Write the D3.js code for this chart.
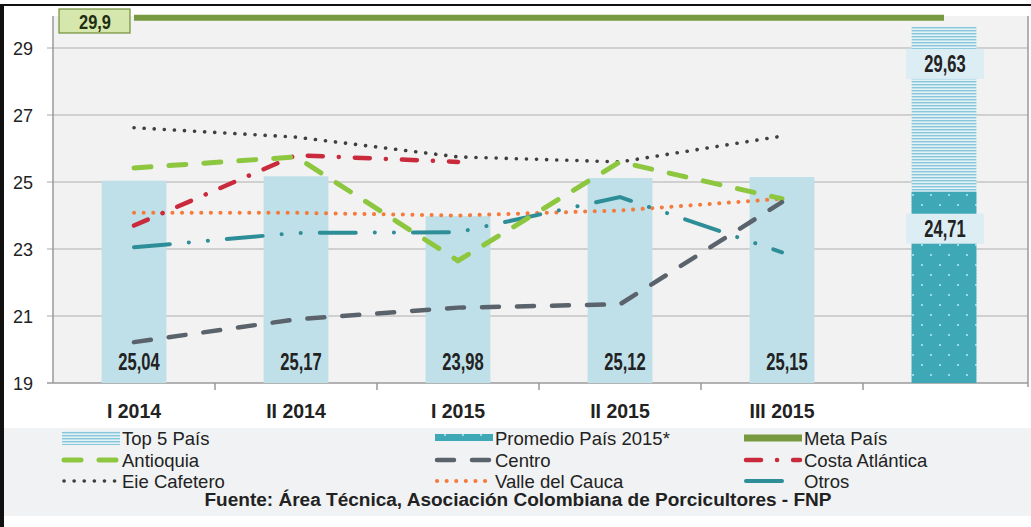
<!DOCTYPE html>
<html><head><meta charset="utf-8">
<script src="https://cdn.jsdelivr.net/npm/d3@7"></script>
<style>
html,body{margin:0;padding:0;background:#fff;}
svg{display:block;font-family:"Liberation Sans",Arial,sans-serif;}
</style></head>
<body><svg id="c" width="1031" height="527"></svg>
<script>
// ---- data ----
const categories = ["I 2014","II 2014","I 2015","II 2015","III 2015",""];
const yTicks = [19,21,23,25,27,29];
const periodBars = [25.04,25.17,23.98,25.12,25.15];
const top5Pais = 29.63;
const promedioPais2015 = 24.71;
const metaPais = 29.9;
const antioquia = [25.42,25.75,22.65,25.6,24.5];
const centro = [20.22,20.9,21.25,21.35,24.4];
const costaAtlantica = [23.7,25.8,25.6,null,null];
const ejeCafetero = [26.62,26.34,25.75,25.6,26.37];
const valleDelCauca = [24.08,24.08,24.0,24.15,24.5];
const otros = [23.05,23.48,23.5,24.55,22.9];
const legendLabels = ["Top 5 País","Promedio País 2015*","Meta País","Antioquia","Centro","Costa Atlántica","Eie Cafetero","Valle del Cauca","Otros"];
const sourceText = "Fuente: Área Técnica, Asociación Colombiana de Porcicultores - FNP";

// ---- setup ----
const svg = d3.select("#c");
const L = 53, R = 1028, T = 16, B = 383;
const x = d3.scaleBand().domain(categories).range([L, 1025]).paddingInner(0.6).paddingOuter(0.3);
const y = d3.scaleLinear().domain([19,29]).range([B,48]);
const loc = d3.formatLocale({decimal:",",thousands:".",grouping:[3],currency:["$",""]});
const f2 = loc.format(".2f"), f1 = loc.format(".1f");
const cx = c => x(c) + x.bandwidth()/2;
function squeeze(sel, r){ sel.each(function(){ const w=this.getComputedTextLength(); d3.select(this).attr("textLength",w*r).attr("lengthAdjust","spacingAndGlyphs"); }); }

// frame
svg.append("rect").attr("x",0).attr("y",0).attr("width",1031).attr("height",527).attr("fill","#fff");
svg.append("rect").attr("x",4).attr("y",428).attr("width",1027).attr("height",88).attr("fill","#f1f2f3");
svg.append("line").attr("x1",0).attr("x2",1031).attr("y1",5).attr("y2",5).attr("stroke","#111").attr("stroke-width",2);
svg.append("line").attr("x1",2).attr("x2",2).attr("y1",4).attr("y2",527).attr("stroke","#111").attr("stroke-width",4);

// patterns
const defs = svg.append("defs");
const ph = defs.append("pattern").attr("id","hatch").attr("patternUnits","userSpaceOnUse").attr("width",8).attr("height",3);
ph.append("rect").attr("width",8).attr("height",3).attr("fill","#e4f2f7");
ph.append("rect").attr("y",0).attr("width",8).attr("height",1.4).attr("fill","#86c7db");
const pd = defs.append("pattern").attr("id","dots").attr("patternUnits","userSpaceOnUse").attr("width",18).attr("height",20);
pd.append("rect").attr("width",18).attr("height",20).attr("fill","#3ea8b6");
pd.append("circle").attr("cx",4).attr("cy",5).attr("r",1.1).attr("fill","#aee8f0");
pd.append("circle").attr("cx",13).attr("cy",15).attr("r",1.1).attr("fill","#aee8f0");

// plot bg
svg.append("rect").attr("x",L).attr("y",T).attr("width",R-L).attr("height",B-T).attr("fill","#f2f2f2");
// grid
svg.append("g").selectAll("line").data(yTicks).join("line")
  .attr("x1",L-6).attr("x2",R).attr("y1",d=>y(d)).attr("y2",d=>y(d))
  .attr("stroke",d=>d===19?"#9a9a9a":"#c4c4c4").attr("stroke-width",1.5);
svg.append("line").attr("x1",L).attr("x2",L).attr("y1",T).attr("y2",B).attr("stroke","#9a9a9a").attr("stroke-width",1.5);
svg.append("line").attr("x1",R).attr("x2",R).attr("y1",T).attr("y2",B+4).attr("stroke","#9a9a9a").attr("stroke-width",1.5);
// x ticks at band boundaries
svg.append("g").selectAll("line").data(categories.slice(1)).join("line")
  .attr("x1",d=>x(d)-x.step()*x.paddingInner()/2).attr("x2",d=>x(d)-x.step()*x.paddingInner()/2)
  .attr("y1",B).attr("y2",B+7).attr("stroke","#9a9a9a").attr("stroke-width",1.5);
// y labels
svg.append("g").selectAll("text").data(yTicks).join("text")
  .attr("x",33).attr("y",d=>y(d)+6.5).attr("text-anchor","end").attr("font-size",18).attr("fill","#222").text(d=>d);
// x labels
svg.append("g").selectAll("text").data(categories).join("text")
  .attr("x",d=>cx(d)).attr("y",418).attr("text-anchor","middle").attr("font-size",19.5).attr("font-weight","bold").attr("fill","#222").text(d=>d);

// period bars
const pcats = categories.slice(0,5);
svg.append("g").selectAll("rect").data(periodBars).join("rect")
  .attr("x",(d,i)=>x(pcats[i])).attr("width",x.bandwidth())
  .attr("y",d=>y(d)).attr("height",d=>y(19)-y(d)).attr("fill","#bfe0e9");
// last bars
const lc = categories[5];
svg.append("rect").attr("x",x(lc)).attr("width",x.bandwidth()).attr("y",y(top5Pais)).attr("height",y(19)-y(top5Pais)).attr("fill","url(#hatch)");
svg.append("rect").attr("x",x(lc)).attr("width",x.bandwidth()).attr("y",y(promedioPais2015)).attr("height",y(19)-y(promedioPais2015)).attr("fill","url(#dots)");

// lines
const series = [
  {v:valleDelCauca, c:"#f47b3c", dash:"0.1,9.5", w:4},
  {v:otros, c:"#2e8e98", dash:"36,19,0.1,19,0.1,19", w:4},
  {v:ejeCafetero, c:"#3f3f3f", dash:"0.1,10", w:3.6},
  {v:costaAtlantica, c:"#c92a3c", dash:"15,16,0.1,16", w:4.5},
  {v:antioquia, c:"#8dc63f", dash:"17,18", w:5},
  {v:centro, c:"#5a636b", dash:"17,18", w:4.5}
];
const line = d3.line().defined(d=>d.v!=null).x(d=>cx(d.c)).y(d=>y(d.v));
svg.append("g").selectAll("path").data(series).join("path")
  .attr("d",s=>line(s.v.map((v,i)=>({v,c:pcats[i]}))))
  .attr("fill","none").attr("stroke",s=>s.c).attr("stroke-width",s=>s.w)
  .attr("stroke-dasharray",s=>s.dash).attr("stroke-linecap","round");

// meta line
svg.append("line").attr("x1",cx(categories[0])).attr("x2",cx(lc)).attr("y1",y(metaPais)).attr("y2",y(metaPais))
  .attr("stroke","#77993f").attr("stroke-width",6);
svg.append("rect").attr("x",59).attr("y",9).attr("width",71).attr("height",24).attr("fill","#d5e7ac").attr("stroke","#6f8f3a").attr("stroke-width",1.2);
const mt = svg.append("text").attr("x",95).attr("y",29).attr("text-anchor","middle").attr("font-size",21).attr("font-weight","bold").attr("fill","#1f2d12").text(f1(metaPais));
squeeze(mt,0.78);

// labels
const bl = svg.append("g").selectAll("text").data(periodBars).join("text")
  .attr("x",(d,i)=>cx(pcats[i])+5).attr("y",y(19)-13).attr("text-anchor","middle")
  .attr("font-size",23).attr("font-weight","bold").attr("fill","#222").text(d=>f2(d));
squeeze(bl,0.72);
[top5Pais,promedioPais2015].forEach(v=>{
  const cy = y(v)+37;
  svg.append("rect").attr("x",cx(lc)-38).attr("y",cy-15).attr("width",78).attr("height",30).attr("fill","#dcedf3");
  const t = svg.append("text").attr("x",cx(lc)+1).attr("y",cy+8).attr("text-anchor","middle")
    .attr("font-size",23).attr("font-weight","bold").attr("fill","#222").text(f2(v));
  squeeze(t,0.72);
});

// legend
const colX = [62,435,744], rowY = [438,460,481], symW = 58;
const lg = svg.append("g");
legendLabels.forEach((lab,i)=>{
  const cxs = colX[i%3], cy = rowY[Math.floor(i/3)];
  if(i===0){ lg.append("rect").attr("x",cxs).attr("y",cy-7).attr("width",symW).attr("height",14).attr("fill","url(#hatch)"); }
  else if(i===1){ lg.append("rect").attr("x",cxs).attr("y",cy-4).attr("width",symW).attr("height",7).attr("fill","url(#dots)"); }
  else if(i===2){ lg.append("line").attr("x1",cxs).attr("x2",cxs+symW).attr("y1",cy).attr("y2",cy).attr("stroke","#77993f").attr("stroke-width",7); }
  else {
    const s = {3:series[4],4:series[5],5:series[3],6:series[2],7:series[0],8:series[1]}[i];
    lg.append("line").attr("x1",cxs+2).attr("x2",cxs+symW-2).attr("y1",cy).attr("y2",cy)
      .attr("stroke",s.c).attr("stroke-width",s.w).attr("stroke-dasharray",s.dash).attr("stroke-linecap","round");
  }
  lg.append("text").attr("x",cxs+symW+2).attr("y",cy+6.5).attr("font-size",18.5).attr("fill","#222").text(lab);
});
svg.append("text").attr("x",518).attr("y",506).attr("text-anchor","middle").attr("font-size",18).attr("font-weight","bold").attr("fill","#222")
  .attr("textLength",627).attr("lengthAdjust","spacingAndGlyphs").text(sourceText);
</script></body></html>
